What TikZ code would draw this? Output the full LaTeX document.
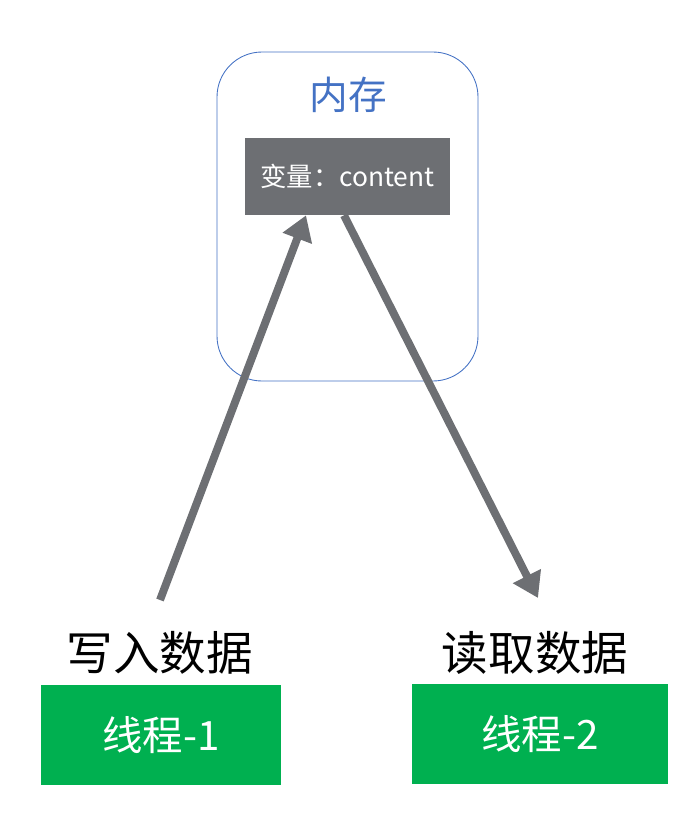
\documentclass[tikz,border=0pt]{standalone}
\usepackage{fontspec}
\newfontfamily\cjk{Noto Sans CJK SC}
\usetikzlibrary{arrows.meta}
\definecolor{memblue}{HTML}{4472C4}
\definecolor{vargray}{HTML}{6D6F73}
\definecolor{thgreen}{HTML}{00B050}
\begin{document}
\begin{tikzpicture}[x=0.02cm,y=-0.02cm,
  membox/.style={draw=memblue, line width=0.5pt, rounded corners=0.9cm},
  varbox/.style={fill=vargray, text=white, inner sep=0pt, minimum width=4.1cm, minimum height=1.54cm, font=\cjk\fontsize{15}{17}\selectfont},
  thbox/.style={fill=thgreen, text=white, inner sep=0pt, minimum height=2cm, font=\cjk\fontsize{23}{26}\selectfont},
  oplabel/.style={font=\cjk\fontsize{26.5}{30}\selectfont},
  flow/.style={draw=vargray, line width=4.5pt, -{Triangle[length=14pt,width=17pt]}}]
\useasboundingbox (0,0) rectangle (699,822);
\draw[membox] (217,52) rectangle (478,381);
\node[text=memblue, font=\cjk\fontsize{22}{26}\selectfont] (mem) at (348,95) {内存};
\node[varbox] (var) at (347.5,176.5) {变量：content};
\node[thbox, minimum width=4.8cm] (th1) at (161,735) {线程-1};
\node[thbox, minimum width=5.12cm] (th2) at (540,734) {线程-2};
\node[oplabel] (write) at (160,653) {写入数据};
\node[oplabel] (read) at (535,653) {读取数据};
\coordinate (wstart) at (160,600);
\coordinate (rend) at (538,598);
\draw[flow] (wstart) -- (var.south -| 306,0);
\draw[flow] (var.south -| 344,0) -- (rend);
\end{tikzpicture}
\end{document}
